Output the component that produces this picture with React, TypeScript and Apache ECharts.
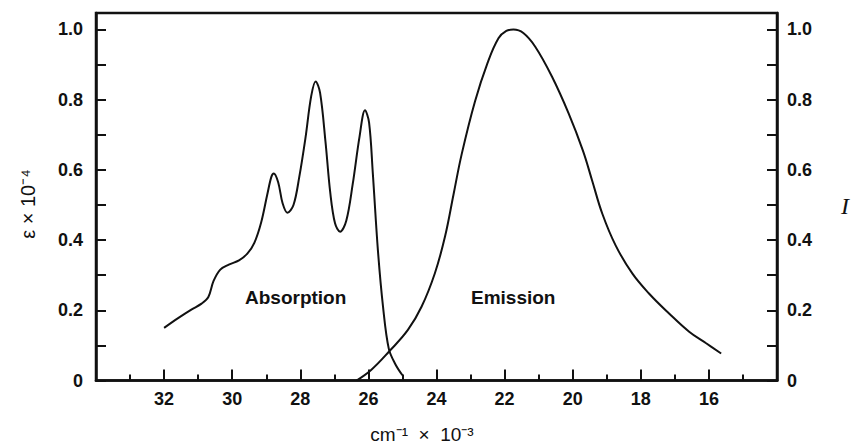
import React, { useEffect, useRef } from 'react';
import * as echarts from 'echarts';

// Wavenumber (cm^-1 x 10^-3) and values
const absorptionX = [32.0, 31.6, 31.2, 30.9, 30.7, 30.55, 30.35, 30.1, 29.8, 29.55, 29.35, 29.15, 28.97, 28.85, 28.78, 28.65, 28.52, 28.38, 28.2, 28.03, 27.85, 27.68, 27.55, 27.42, 27.26, 27.12, 26.98, 26.83, 26.65, 26.46, 26.26, 26.1, 25.98, 25.87, 25.72, 25.57, 25.4, 25.2, 25.0];
const absorptionY = [0.150, 0.177, 0.202, 0.219, 0.238, 0.283, 0.316, 0.330, 0.342, 0.362, 0.392, 0.450, 0.530, 0.580, 0.590, 0.565, 0.505, 0.478, 0.500, 0.580, 0.690, 0.810, 0.852, 0.820, 0.680, 0.535, 0.448, 0.424, 0.455, 0.560, 0.695, 0.770, 0.735, 0.590, 0.370, 0.210, 0.090, 0.045, 0.015];

const emissionX = [26.35, 25.92, 25.38, 24.84, 24.44, 24.05, 23.75, 23.5, 23.26, 22.87, 22.5, 22.18, 21.95, 21.74, 21.45, 21.1, 20.61, 20.12, 19.7, 19.43, 19.13, 18.74, 18.25, 17.76, 17.17, 16.58, 16.08, 15.64];
const emissionY = [0.0, 0.030, 0.084, 0.144, 0.210, 0.305, 0.410, 0.530, 0.645, 0.795, 0.905, 0.975, 0.996, 1.000, 0.990, 0.951, 0.866, 0.761, 0.655, 0.570, 0.475, 0.385, 0.305, 0.248, 0.191, 0.139, 0.106, 0.077];

const xLabels = ['32', '30', '28', '26', '24', '22', '20', '18', '16'];
const yLabels = ['0', '0.2', '0.4', '0.6', '0.8', '1.0'];

const INK = '#111';

export default function App() {
  const ref = useRef<HTMLDivElement>(null);
  useEffect(() => {
    if (!ref.current) return;
    const chart = echarts.init(ref.current, undefined, { renderer: 'svg' });
    const tickFont = { color: INK, fontSize: 18, fontWeight: 'bold' as const, fontFamily: 'Liberation Sans, Arial, sans-serif' };
    const yFormatter = (v: number) => {
      const t = Math.round(v * 10);
      if (Math.abs(v * 10 - t) > 1e-6 || t % 2 !== 0) return '';
      return yLabels[t / 2] ?? '';
    };
    const yAxisBase = {
      type: 'value' as const,
      min: 0,
      max: 1.047,
      interval: 0.1,
      splitLine: { show: false },
      axisLine: { show: true, lineStyle: { color: INK, width: 2.5 } },
      axisTick: { show: true, inside: true, length: 10, lineStyle: { color: INK, width: 2 } },
    };
    chart.setOption({
      animation: false,
      backgroundColor: '#fff',
      grid: { left: 96, right: 75, top: 13, bottom: 62.5, show: true, borderColor: INK, borderWidth: 2.5 },
      xAxis: {
        type: 'value',
        min: 14,
        max: 34,
        interval: 2,
        inverse: true,
        splitLine: { show: false },
        axisLine: { lineStyle: { color: INK, width: 2.5 } },
        axisTick: { inside: true, length: 11, lineStyle: { color: INK, width: 2 } },
        minorTick: { show: true, splitNumber: 2, length: 6, lineStyle: { color: INK, width: 2 } },
        axisLabel: {
          ...tickFont,
          margin: 9,
          formatter: (v: number) => {
            const s = String(Math.round(v));
            return xLabels.includes(s) ? s : '';
          },
        },
      },
      yAxis: [
        { ...yAxisBase, position: 'left', axisLabel: { ...tickFont, margin: 13, formatter: yFormatter } },
        { ...yAxisBase, position: 'right', axisLabel: { ...tickFont, margin: 10, formatter: yFormatter } },
      ],
      series: [
        {
          name: 'Absorption',
          type: 'line',
          yAxisIndex: 0,
          data: absorptionX.map((x, i) => [x, absorptionY[i]]),
          showSymbol: false,
          smooth: 0.35,
          lineStyle: { color: INK, width: 2 },
        },
        {
          name: 'Emission',
          type: 'line',
          yAxisIndex: 1,
          data: emissionX.map((x, i) => [x, emissionY[i]]),
          showSymbol: false,
          smooth: 0.4,
          lineStyle: { color: INK, width: 2 },
        },
      ],
      graphic: [
        {
          type: 'text', left: 245, top: 288,
          style: { text: 'Absorption', fill: INK, font: 'bold 19px "Liberation Sans", Arial, sans-serif' },
        },
        {
          type: 'text', left: 471, top: 288,
          style: { text: 'Emission', fill: INK, font: 'bold 19px "Liberation Sans", Arial, sans-serif' },
        },
        {
          type: 'text', x: 422, y: 434,
          style: { text: 'cm⁻¹  ×  10⁻³', fill: INK, align: 'center', verticalAlign: 'middle', font: '19px "Liberation Sans", Arial, sans-serif' },
        },
        {
          type: 'text', x: 28, y: 204, rotation: Math.PI / 2,
          style: { text: 'ε × 10⁻⁴', fill: INK, align: 'center', verticalAlign: 'middle', font: '20px "Liberation Sans", Arial, sans-serif' },
        },
        {
          type: 'text', x: 845, y: 206,
          style: { text: 'I', fill: INK, align: 'center', verticalAlign: 'middle', font: 'italic 24px "Liberation Serif", "Times New Roman", serif' },
        },
      ],
    });
    return () => chart.dispose();
  }, []);
  return <div ref={ref} style={{ position: 'fixed', left: 0, top: 0, width: 852, height: 443 }} />;
}
